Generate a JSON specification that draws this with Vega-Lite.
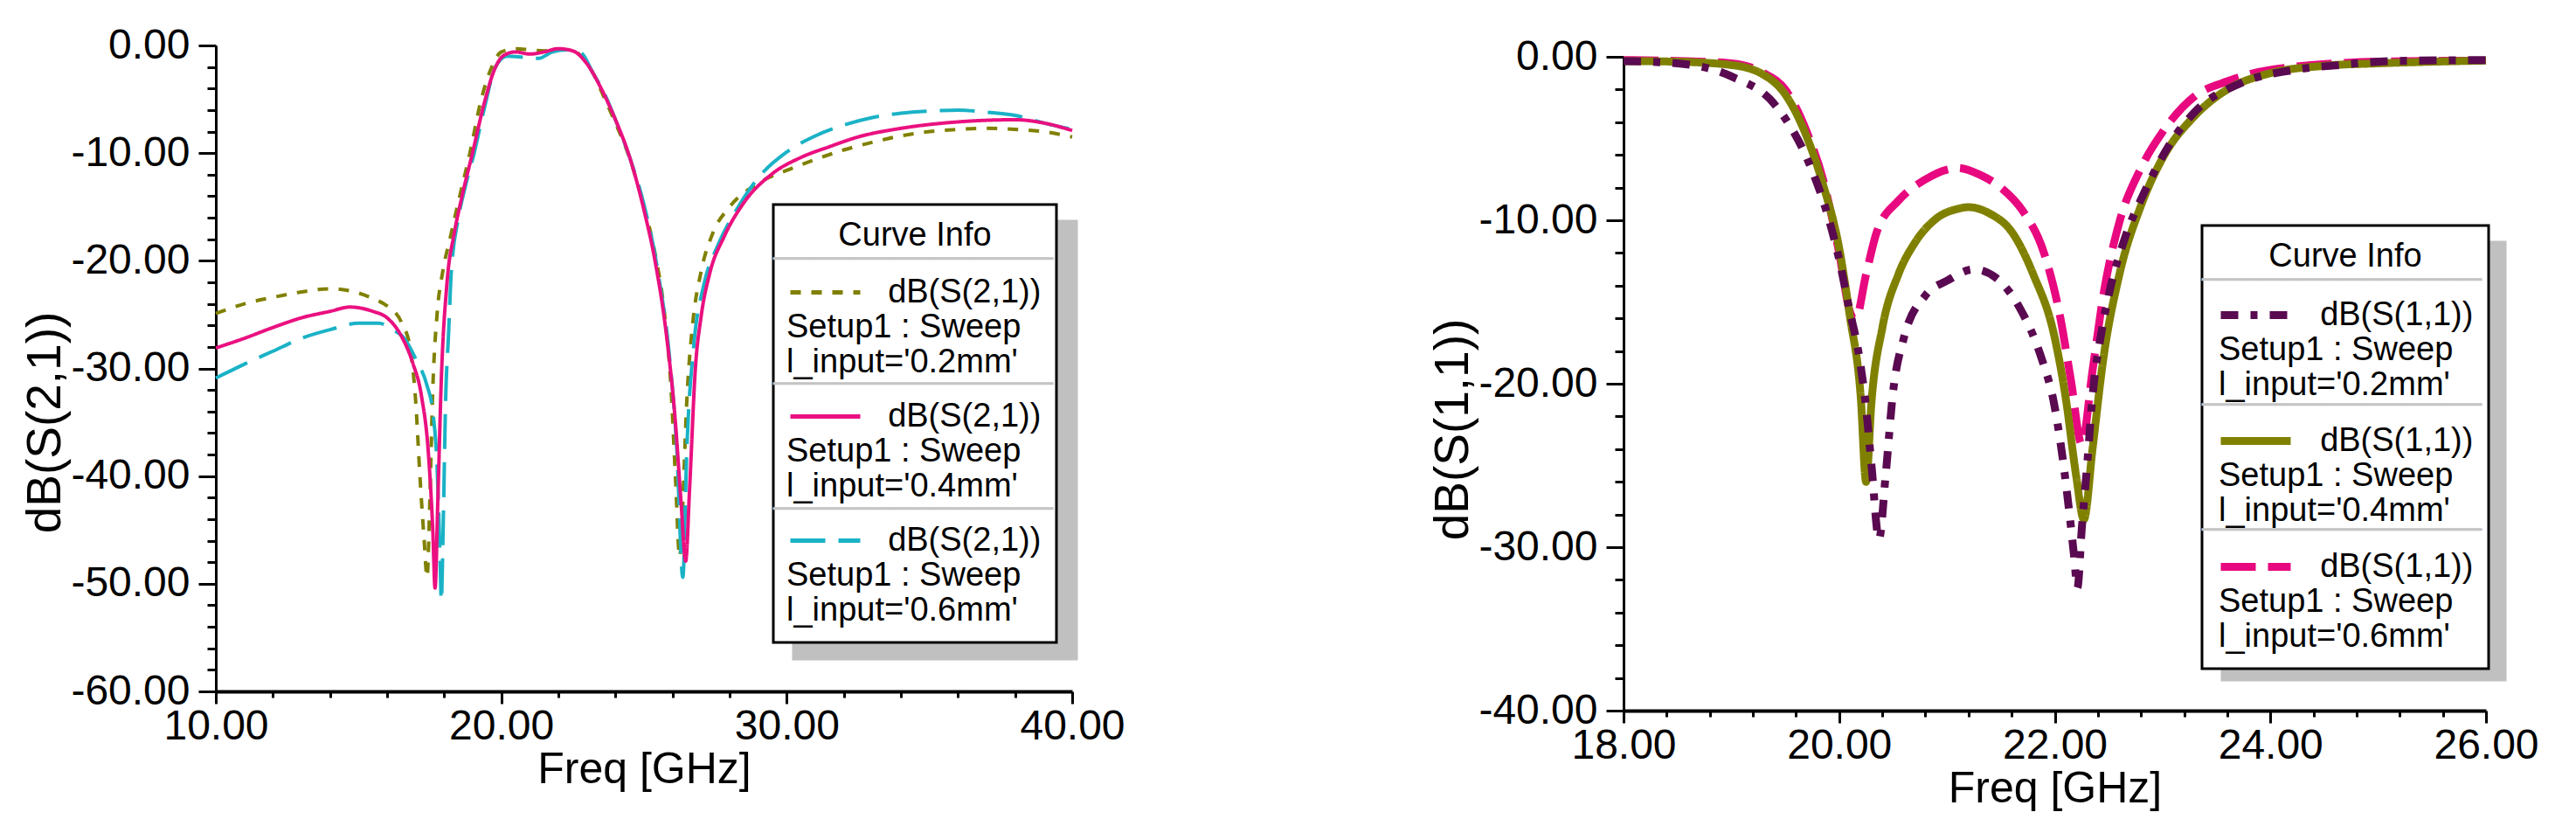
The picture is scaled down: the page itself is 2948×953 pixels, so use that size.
{
  "$schema": "https://vega.github.io/schema/vega-lite/v6.json",
  "background": "white",
  "padding": {"left": 24, "top": 28, "right": 5, "bottom": 5},
  "spacing": 347,
  "resolve": {
    "scale": {"color": "independent", "stroke": "independent", "strokeDash": "independent", "strokeWidth": "independent", "opacity": "independent"},
    "legend": {"color": "independent", "stroke": "independent", "strokeDash": "independent", "opacity": "independent"}
  },
  "config": {
    "font": "Liberation Sans",
    "view": {"stroke": null},
    "axis": {
      "grid": false, "domainColor": "#000", "tickColor": "#000", "labelColor": "#000", "titleColor": "#000",
      "labelFont": "Liberation Sans", "titleFont": "Liberation Sans", "labelFontSize": 48, "titleFontSize": 50,
      "titleFontWeight": "normal", "labelOverlap": false, "labelFlush": false, "labelBound": false, "tickWidth": 3
    },
    "axisX": {"domainWidth": 4, "labelPadding": 2, "titlePadding": 0},
    "axisY": {"domainWidth": 3, "labelPadding": 10, "titlePadding": 0, "titleFontSize": 55},
    "legend": {"strokeWidth": 3}
  },
  "datasets": {
    "s21": [
      {"f": 10, "db": -24.9, "series": "0.2mm"}, {"f": 11, "db": -24.0, "series": "0.2mm"}, {"f": 12, "db": -23.4, "series": "0.2mm"},
      {"f": 13, "db": -22.9, "series": "0.2mm"}, {"f": 14, "db": -22.6, "series": "0.2mm"}, {"f": 15, "db": -23.0, "series": "0.2mm"},
      {"f": 15.5, "db": -23.5, "series": "0.2mm"}, {"f": 16, "db": -24.2, "series": "0.2mm"}, {"f": 16.5, "db": -25.7, "series": "0.2mm"},
      {"f": 16.8, "db": -28.0, "series": "0.2mm"}, {"f": 17.0, "db": -33.0, "series": "0.2mm"}, {"f": 17.15, "db": -40.0, "series": "0.2mm"},
      {"f": 17.3, "db": -46.0, "series": "0.2mm"}, {"f": 17.4, "db": -49.4, "series": "0.2mm"}, {"f": 17.5, "db": -42.0, "series": "0.2mm"},
      {"f": 17.6, "db": -32.0, "series": "0.2mm"}, {"f": 17.75, "db": -25.0, "series": "0.2mm"}, {"f": 17.95, "db": -21.0, "series": "0.2mm"},
      {"f": 18.2, "db": -18.0, "series": "0.2mm"}, {"f": 18.5, "db": -14.5, "series": "0.2mm"}, {"f": 18.9, "db": -10.0, "series": "0.2mm"},
      {"f": 19.3, "db": -5.0, "series": "0.2mm"}, {"f": 19.7, "db": -1.8, "series": "0.2mm"}, {"f": 20.0, "db": -0.6, "series": "0.2mm"},
      {"f": 20.5, "db": -0.3, "series": "0.2mm"}, {"f": 21.0, "db": -0.4, "series": "0.2mm"}, {"f": 21.5, "db": -0.5, "series": "0.2mm"},
      {"f": 22.0, "db": -0.4, "series": "0.2mm"}, {"f": 22.4, "db": -0.4, "series": "0.2mm"}, {"f": 22.8, "db": -1.0, "series": "0.2mm"},
      {"f": 23.2, "db": -2.5, "series": "0.2mm"}, {"f": 23.6, "db": -4.8, "series": "0.2mm"}, {"f": 24.0, "db": -7.2, "series": "0.2mm"},
      {"f": 24.5, "db": -10.5, "series": "0.2mm"}, {"f": 25.0, "db": -15.0, "series": "0.2mm"}, {"f": 25.4, "db": -19.5, "series": "0.2mm"},
      {"f": 25.7, "db": -24.5, "series": "0.2mm"}, {"f": 25.95, "db": -32.0, "series": "0.2mm"}, {"f": 26.1, "db": -40.0, "series": "0.2mm"},
      {"f": 26.25, "db": -47.5, "series": "0.2mm"}, {"f": 26.35, "db": -43.0, "series": "0.2mm"}, {"f": 26.5, "db": -33.0, "series": "0.2mm"},
      {"f": 26.7, "db": -26.0, "series": "0.2mm"}, {"f": 27.0, "db": -21.0, "series": "0.2mm"}, {"f": 27.4, "db": -17.5, "series": "0.2mm"},
      {"f": 28.0, "db": -15.0, "series": "0.2mm"}, {"f": 29.0, "db": -12.8, "series": "0.2mm"}, {"f": 30.0, "db": -11.6, "series": "0.2mm"},
      {"f": 31.0, "db": -10.6, "series": "0.2mm"}, {"f": 32.0, "db": -9.7, "series": "0.2mm"}, {"f": 33.0, "db": -9.0, "series": "0.2mm"},
      {"f": 34.0, "db": -8.4, "series": "0.2mm"}, {"f": 35.0, "db": -8.0, "series": "0.2mm"}, {"f": 36.0, "db": -7.8, "series": "0.2mm"},
      {"f": 37.0, "db": -7.7, "series": "0.2mm"}, {"f": 38.0, "db": -7.8, "series": "0.2mm"}, {"f": 39.0, "db": -8.0, "series": "0.2mm"},
      {"f": 40.0, "db": -8.5, "series": "0.2mm"},

      {"f": 10, "db": -30.9, "series": "0.6mm"}, {"f": 11, "db": -29.6, "series": "0.6mm"}, {"f": 12, "db": -28.4, "series": "0.6mm"},
      {"f": 13, "db": -27.2, "series": "0.6mm"}, {"f": 14, "db": -26.4, "series": "0.6mm"}, {"f": 15, "db": -25.8, "series": "0.6mm"},
      {"f": 15.7, "db": -25.8, "series": "0.6mm"}, {"f": 16.2, "db": -26.4, "series": "0.6mm"}, {"f": 16.6, "db": -27.2, "series": "0.6mm"},
      {"f": 17.0, "db": -29.1, "series": "0.6mm"}, {"f": 17.4, "db": -31.6, "series": "0.6mm"}, {"f": 17.6, "db": -34.0, "series": "0.6mm"},
      {"f": 17.75, "db": -39.0, "series": "0.6mm"}, {"f": 17.85, "db": -47.0, "series": "0.6mm"}, {"f": 17.9, "db": -51.6, "series": "0.6mm"},
      {"f": 17.97, "db": -44.0, "series": "0.6mm"}, {"f": 18.05, "db": -33.0, "series": "0.6mm"}, {"f": 18.15, "db": -27.0, "series": "0.6mm"},
      {"f": 18.25, "db": -21.0, "series": "0.6mm"}, {"f": 18.5, "db": -16.0, "series": "0.6mm"}, {"f": 18.75, "db": -13.0, "series": "0.6mm"},
      {"f": 19.05, "db": -10.0, "series": "0.6mm"}, {"f": 19.4, "db": -5.9, "series": "0.6mm"}, {"f": 19.8, "db": -2.0, "series": "0.6mm"},
      {"f": 20.2, "db": -1.0, "series": "0.6mm"}, {"f": 20.8, "db": -1.1, "series": "0.6mm"}, {"f": 21.3, "db": -1.2, "series": "0.6mm"},
      {"f": 21.8, "db": -0.6, "series": "0.6mm"}, {"f": 22.3, "db": -0.4, "series": "0.6mm"}, {"f": 22.8, "db": -0.7, "series": "0.6mm"},
      {"f": 23.2, "db": -2.5, "series": "0.6mm"}, {"f": 23.6, "db": -4.4, "series": "0.6mm"}, {"f": 24.0, "db": -6.9, "series": "0.6mm"},
      {"f": 24.5, "db": -10.4, "series": "0.6mm"}, {"f": 25.0, "db": -14.8, "series": "0.6mm"}, {"f": 25.5, "db": -21.2, "series": "0.6mm"},
      {"f": 25.9, "db": -29.1, "series": "0.6mm"}, {"f": 26.15, "db": -37.5, "series": "0.6mm"}, {"f": 26.36, "db": -49.4, "series": "0.6mm"},
      {"f": 26.5, "db": -37.5, "series": "0.6mm"}, {"f": 26.75, "db": -27.7, "series": "0.6mm"}, {"f": 27.1, "db": -22.2, "series": "0.6mm"},
      {"f": 27.6, "db": -18.5, "series": "0.6mm"}, {"f": 28.3, "db": -15.0, "series": "0.6mm"}, {"f": 29.0, "db": -12.3, "series": "0.6mm"},
      {"f": 30.0, "db": -9.9, "series": "0.6mm"}, {"f": 31.0, "db": -8.4, "series": "0.6mm"}, {"f": 32.0, "db": -7.4, "series": "0.6mm"},
      {"f": 33.0, "db": -6.7, "series": "0.6mm"}, {"f": 34.0, "db": -6.3, "series": "0.6mm"}, {"f": 35.0, "db": -6.1, "series": "0.6mm"},
      {"f": 36.0, "db": -6.0, "series": "0.6mm"}, {"f": 37.0, "db": -6.2, "series": "0.6mm"}, {"f": 38.0, "db": -6.5, "series": "0.6mm"},
      {"f": 39.0, "db": -7.2, "series": "0.6mm"}, {"f": 40.0, "db": -7.8, "series": "0.6mm"},

      {"f": 10, "db": -28.1, "series": "0.4mm"}, {"f": 11, "db": -27.2, "series": "0.4mm"}, {"f": 12, "db": -26.2, "series": "0.4mm"},
      {"f": 13, "db": -25.3, "series": "0.4mm"}, {"f": 14, "db": -24.7, "series": "0.4mm"}, {"f": 14.7, "db": -24.3, "series": "0.4mm"},
      {"f": 15.5, "db": -24.7, "series": "0.4mm"}, {"f": 16.0, "db": -25.3, "series": "0.4mm"}, {"f": 16.5, "db": -27.0, "series": "0.4mm"},
      {"f": 16.9, "db": -29.5, "series": "0.4mm"}, {"f": 17.2, "db": -32.5, "series": "0.4mm"}, {"f": 17.45, "db": -38.0, "series": "0.4mm"},
      {"f": 17.6, "db": -45.0, "series": "0.4mm"}, {"f": 17.68, "db": -50.4, "series": "0.4mm"}, {"f": 17.78, "db": -42.0, "series": "0.4mm"},
      {"f": 17.9, "db": -31.0, "series": "0.4mm"}, {"f": 18.1, "db": -22.0, "series": "0.4mm"}, {"f": 18.35, "db": -17.5, "series": "0.4mm"},
      {"f": 18.6, "db": -14.3, "series": "0.4mm"}, {"f": 19.0, "db": -9.9, "series": "0.4mm"}, {"f": 19.4, "db": -5.4, "series": "0.4mm"},
      {"f": 19.8, "db": -2.0, "series": "0.4mm"}, {"f": 20.1, "db": -0.9, "series": "0.4mm"}, {"f": 20.5, "db": -0.6, "series": "0.4mm"},
      {"f": 21.0, "db": -0.8, "series": "0.4mm"}, {"f": 21.5, "db": -0.6, "series": "0.4mm"}, {"f": 22.0, "db": -0.3, "series": "0.4mm"},
      {"f": 22.5, "db": -0.5, "series": "0.4mm"}, {"f": 23.0, "db": -1.7, "series": "0.4mm"}, {"f": 23.5, "db": -4.0, "series": "0.4mm"},
      {"f": 24.0, "db": -6.9, "series": "0.4mm"}, {"f": 24.5, "db": -10.4, "series": "0.4mm"}, {"f": 25.0, "db": -15.3, "series": "0.4mm"},
      {"f": 25.4, "db": -20.2, "series": "0.4mm"}, {"f": 25.8, "db": -27.2, "series": "0.4mm"}, {"f": 26.1, "db": -35.0, "series": "0.4mm"},
      {"f": 26.3, "db": -42.5, "series": "0.4mm"}, {"f": 26.46, "db": -47.9, "series": "0.4mm"}, {"f": 26.6, "db": -41.0, "series": "0.4mm"},
      {"f": 26.8, "db": -30.0, "series": "0.4mm"}, {"f": 27.0, "db": -25.2, "series": "0.4mm"}, {"f": 27.3, "db": -21.2, "series": "0.4mm"},
      {"f": 27.8, "db": -17.8, "series": "0.4mm"}, {"f": 28.5, "db": -14.6, "series": "0.4mm"}, {"f": 29.5, "db": -11.9, "series": "0.4mm"},
      {"f": 30.5, "db": -10.4, "series": "0.4mm"}, {"f": 31.5, "db": -9.4, "series": "0.4mm"}, {"f": 32.5, "db": -8.5, "series": "0.4mm"},
      {"f": 34.0, "db": -7.7, "series": "0.4mm"}, {"f": 36.0, "db": -7.1, "series": "0.4mm"}, {"f": 38.0, "db": -6.9, "series": "0.4mm"},
      {"f": 39.0, "db": -7.2, "series": "0.4mm"}, {"f": 40.0, "db": -7.9, "series": "0.4mm"}
    ],
    "s11": [
      {"f": 18.0, "db": -0.2, "series": "0.6mm"}, {"f": 18.5, "db": -0.25, "series": "0.6mm"}, {"f": 19.0, "db": -0.4, "series": "0.6mm"},
      {"f": 19.3, "db": -1.0, "series": "0.6mm"}, {"f": 19.5, "db": -2.0, "series": "0.6mm"}, {"f": 19.7, "db": -4.6, "series": "0.6mm"},
      {"f": 19.85, "db": -7.5, "series": "0.6mm"}, {"f": 20.0, "db": -12.0, "series": "0.6mm"}, {"f": 20.1, "db": -15.6, "series": "0.6mm"},
      {"f": 20.15, "db": -16.1, "series": "0.6mm"}, {"f": 20.25, "db": -13.3, "series": "0.6mm"}, {"f": 20.35, "db": -10.7, "series": "0.6mm"},
      {"f": 20.55, "db": -8.8, "series": "0.6mm"}, {"f": 20.8, "db": -7.5, "series": "0.6mm"}, {"f": 21.0, "db": -6.9, "series": "0.6mm"},
      {"f": 21.1, "db": -6.8, "series": "0.6mm"}, {"f": 21.3, "db": -7.2, "series": "0.6mm"}, {"f": 21.5, "db": -8.0, "series": "0.6mm"},
      {"f": 21.7, "db": -9.4, "series": "0.6mm"}, {"f": 21.9, "db": -12.0, "series": "0.6mm"}, {"f": 22.05, "db": -15.9, "series": "0.6mm"},
      {"f": 22.15, "db": -19.8, "series": "0.6mm"}, {"f": 22.25, "db": -23.7, "series": "0.6mm"}, {"f": 22.35, "db": -19.2, "series": "0.6mm"},
      {"f": 22.45, "db": -14.6, "series": "0.6mm"}, {"f": 22.6, "db": -10.1, "series": "0.6mm"}, {"f": 22.8, "db": -6.8, "series": "0.6mm"},
      {"f": 23.0, "db": -4.6, "series": "0.6mm"}, {"f": 23.3, "db": -2.4, "series": "0.6mm"}, {"f": 23.6, "db": -1.5, "series": "0.6mm"},
      {"f": 24.0, "db": -0.8, "series": "0.6mm"}, {"f": 25.0, "db": -0.3, "series": "0.6mm"}, {"f": 26.0, "db": -0.23, "series": "0.6mm"},

      {"f": 18.0, "db": -0.26, "series": "0.4mm"}, {"f": 18.5, "db": -0.3, "series": "0.4mm"}, {"f": 19.0, "db": -0.5, "series": "0.4mm"},
      {"f": 19.3, "db": -1.1, "series": "0.4mm"}, {"f": 19.5, "db": -2.3, "series": "0.4mm"}, {"f": 19.7, "db": -4.9, "series": "0.4mm"},
      {"f": 19.85, "db": -7.8, "series": "0.4mm"}, {"f": 20.0, "db": -11.7, "series": "0.4mm"}, {"f": 20.1, "db": -15.9, "series": "0.4mm"},
      {"f": 20.2, "db": -20.8, "series": "0.4mm"}, {"f": 20.25, "db": -26.0, "series": "0.4mm"}, {"f": 20.3, "db": -21.1, "series": "0.4mm"},
      {"f": 20.4, "db": -16.6, "series": "0.4mm"}, {"f": 20.55, "db": -13.3, "series": "0.4mm"}, {"f": 20.7, "db": -11.4, "series": "0.4mm"},
      {"f": 20.9, "db": -9.9, "series": "0.4mm"}, {"f": 21.1, "db": -9.3, "series": "0.4mm"}, {"f": 21.2, "db": -9.2, "series": "0.4mm"},
      {"f": 21.4, "db": -9.6, "series": "0.4mm"}, {"f": 21.6, "db": -10.7, "series": "0.4mm"}, {"f": 21.8, "db": -13.3, "series": "0.4mm"},
      {"f": 22.0, "db": -17.2, "series": "0.4mm"}, {"f": 22.1, "db": -20.8, "series": "0.4mm"}, {"f": 22.2, "db": -25.7, "series": "0.4mm"},
      {"f": 22.27, "db": -28.3, "series": "0.4mm"}, {"f": 22.35, "db": -24.0, "series": "0.4mm"}, {"f": 22.45, "db": -18.5, "series": "0.4mm"},
      {"f": 22.6, "db": -13.3, "series": "0.4mm"}, {"f": 22.8, "db": -9.1, "series": "0.4mm"}, {"f": 23.0, "db": -6.2, "series": "0.4mm"},
      {"f": 23.3, "db": -3.6, "series": "0.4mm"}, {"f": 23.6, "db": -2.0, "series": "0.4mm"}, {"f": 24.0, "db": -1.0, "series": "0.4mm"},
      {"f": 24.5, "db": -0.55, "series": "0.4mm"}, {"f": 25.0, "db": -0.4, "series": "0.4mm"}, {"f": 25.5, "db": -0.3, "series": "0.4mm"},
      {"f": 26.0, "db": -0.23, "series": "0.4mm"},

      {"f": 18.0, "db": -0.26, "series": "0.2mm"}, {"f": 18.5, "db": -0.4, "series": "0.2mm"}, {"f": 19.0, "db": -1.2, "series": "0.2mm"},
      {"f": 19.4, "db": -2.9, "series": "0.2mm"}, {"f": 19.72, "db": -6.5, "series": "0.2mm"}, {"f": 19.88, "db": -9.4, "series": "0.2mm"},
      {"f": 20.0, "db": -12.4, "series": "0.2mm"}, {"f": 20.09, "db": -15.3, "series": "0.2mm"}, {"f": 20.19, "db": -18.5, "series": "0.2mm"},
      {"f": 20.25, "db": -21.5, "series": "0.2mm"}, {"f": 20.3, "db": -25.0, "series": "0.2mm"}, {"f": 20.37, "db": -29.5, "series": "0.2mm"},
      {"f": 20.43, "db": -25.7, "series": "0.2mm"}, {"f": 20.5, "db": -20.5, "series": "0.2mm"}, {"f": 20.6, "db": -17.2, "series": "0.2mm"},
      {"f": 20.8, "db": -14.6, "series": "0.2mm"}, {"f": 21.0, "db": -13.7, "series": "0.2mm"}, {"f": 21.25, "db": -13.0, "series": "0.2mm"},
      {"f": 21.45, "db": -13.5, "series": "0.2mm"}, {"f": 21.67, "db": -15.3, "series": "0.2mm"}, {"f": 21.88, "db": -18.5, "series": "0.2mm"},
      {"f": 21.99, "db": -21.1, "series": "0.2mm"}, {"f": 22.07, "db": -24.4, "series": "0.2mm"}, {"f": 22.13, "db": -27.6, "series": "0.2mm"},
      {"f": 22.18, "db": -30.6, "series": "0.2mm"}, {"f": 22.21, "db": -32.5, "series": "0.2mm"}, {"f": 22.25, "db": -28.9, "series": "0.2mm"},
      {"f": 22.3, "db": -25.0, "series": "0.2mm"}, {"f": 22.35, "db": -20.8, "series": "0.2mm"}, {"f": 22.44, "db": -16.6, "series": "0.2mm"},
      {"f": 22.51, "db": -14.3, "series": "0.2mm"}, {"f": 22.65, "db": -11.1, "series": "0.2mm"}, {"f": 22.83, "db": -8.3, "series": "0.2mm"},
      {"f": 23.1, "db": -5.0, "series": "0.2mm"}, {"f": 23.31, "db": -3.3, "series": "0.2mm"}, {"f": 23.73, "db": -1.6, "series": "0.2mm"},
      {"f": 24.22, "db": -0.8, "series": "0.2mm"}, {"f": 24.64, "db": -0.5, "series": "0.2mm"}, {"f": 25.13, "db": -0.26, "series": "0.2mm"},
      {"f": 26.0, "db": -0.2, "series": "0.2mm"}
    ]
  },
  "hconcat": [
    {
      "width": 980,
      "height": 739,
      "data": {"name": "s21"},
      "encoding": {
        "x": {
          "field": "f", "type": "quantitative",
          "scale": {"domain": [10, 40], "nice": false, "zero": false},
          "axis": {
            "title": "Freq [GHz]",
            "values": [10, 12, 14, 16, 18, 20, 22, 24, 26, 28, 30, 32, 34, 36, 38, 40],
            "labelExpr": "datum.value % 10 === 0 ? format(datum.value, '.2f') : ''",
            "tickSize": {"condition": {"test": "datum.value % 10 === 0", "value": 14}, "value": 7}
          }
        },
        "y": {
          "field": "db", "type": "quantitative",
          "scale": {"domain": [-60, 0], "nice": false, "zero": false},
          "axis": {
            "title": "dB(S(2,1))",
            "titleY": 431,
            "values": [-60, -58, -56, -54, -52, -50, -48, -46, -44, -42, -40, -38, -36, -34, -32, -30, -28, -26, -24, -22, -20, -18, -16, -14, -12, -10, -8, -6, -4, -2, 0],
            "labelExpr": "datum.value % 10 === 0 ? (datum.value < 0 ? '-' : '') + format(abs(datum.value), '.2f') : ''",
            "tickSize": {"condition": {"test": "datum.value % 10 === 0", "value": 20}, "value": 10}
          }
        }
      },
      "layer": [
        {
          "transform": [{"calculate": "datum.series", "as": "k"}],
          "mark": {"type": "line", "opacity": 0},
          "encoding": {
            "color": {
              "field": "k", "type": "nominal",
              "scale": {"range": ["#c0c0c0", "#c0c0c0", "#c0c0c0"]},
              "legend": {
                "title": "Curve Info", "orient": "none", "legendX": 661, "legendY": 201,
                "fillColor": "#c0c0c0", "strokeColor": "#c0c0c0", "padding": 17,
                "titleFontSize": 38, "titleFontWeight": "normal", "titleAnchor": "middle", "titleColor": "#c0c0c0", "titlePadding": 3,
                "labelFontSize": 38, "labelColor": "#c0c0c0", "labelLimit": 600, "labelOffset": -87,
                "labelExpr": "['\u200b\u00a0\u00a0\u00a0\u00a0\u00a0\u00a0\u00a0\u00a0\u00a0\u00a0\u00a0dB(S(2,1))', 'Setup1 : Sweep', \"l_input='\" + datum.label + \"'\"]",
                "symbolType": "stroke", "symbolSize": 6400, "symbolStrokeWidth": 5, "symbolOffset": 0, "rowPadding": 0
              }
            }
          }
        },
        {
          "mark": {"type": "line", "strokeWidth": 4, "interpolate": "monotone"},
          "encoding": {
            "stroke": {
              "field": "series", "type": "nominal",
              "scale": {"domain": ["0.2mm", "0.4mm", "0.6mm"], "range": ["#808000", "#ea1080", "#1ab2c6"]},
              "legend": {
                "title": "Curve Info", "orient": "none", "legendX": 638, "legendY": 182,
                "fillColor": "white", "strokeColor": "black", "padding": 17,
                "titleFontSize": 38, "titleFontWeight": "normal", "titleAnchor": "middle", "titleColor": "black", "titlePadding": 3,
                "labelFontSize": 38, "labelColor": "black", "labelLimit": 600, "labelOffset": -87,
                "labelExpr": "['\u200b\u00a0\u00a0\u00a0\u00a0\u00a0\u00a0\u00a0\u00a0\u00a0\u00a0\u00a0dB(S(2,1))', 'Setup1 : Sweep', \"l_input='\" + datum.label + \"'\"]",
                "symbolType": "stroke", "symbolSize": 6400, "symbolStrokeWidth": 5, "symbolOffset": 0, "rowPadding": 0
              }
            },
            "strokeDash": {
              "field": "series", "type": "nominal",
              "scale": {"domain": ["0.2mm", "0.4mm", "0.6mm"], "range": [[12, 12], [1, 0], [40, 15]]},
              "legend": {
                "title": "Curve Info", "orient": "none", "legendX": 638, "legendY": 182,
                "fillColor": "white", "strokeColor": "black", "padding": 17,
                "titleFontSize": 38, "titleFontWeight": "normal", "titleAnchor": "middle", "titleColor": "black", "titlePadding": 3,
                "labelFontSize": 38, "labelColor": "black", "labelLimit": 600, "labelOffset": -87,
                "labelExpr": "['\u200b\u00a0\u00a0\u00a0\u00a0\u00a0\u00a0\u00a0\u00a0\u00a0\u00a0\u00a0dB(S(2,1))', 'Setup1 : Sweep', \"l_input='\" + datum.label + \"'\"]",
                "symbolType": "stroke", "symbolSize": 6400, "symbolStrokeWidth": 5, "symbolOffset": 0, "rowPadding": 0
              }
            }
          }
        },
        {
          "transform": [{"calculate": "datum.series", "as": "d"}],
          "mark": {"type": "line", "strokeWidth": 0},
          "encoding": {
            "opacity": {
              "field": "d", "type": "ordinal",
              "legend": {
                "title": "Curve Info", "orient": "none", "legendX": 638, "legendY": 168,
                "padding": 17,
                "titleFontSize": 38, "titleFontWeight": "normal", "titleAnchor": "middle", "titleColor": "transparent", "titlePadding": 3,
                "labelFontSize": 38, "labelFont": "DejaVu Sans", "labelColor": "#c4c4c4", "labelLimit": 800, "labelOffset": -57,
                "labelExpr": "'──────────────'",
                "symbolType": "stroke", "symbolSize": 1600, "symbolStrokeWidth": 0, "symbolOpacity": 0, "symbolOffset": 0, "rowPadding": 104
              }
            }
          }
        }
      ]
    },
    {
      "width": 987,
      "height": 761,
      "data": {"name": "s11"},
      "encoding": {
        "x": {
          "field": "f", "type": "quantitative",
          "scale": {"domain": [18, 26], "nice": false, "zero": false},
          "axis": {
            "title": "Freq [GHz]",
            "values": [18, 18.4, 18.8, 19.2, 19.6, 20, 20.4, 20.8, 21.2, 21.6, 22, 22.4, 22.8, 23.2, 23.6, 24, 24.4, 24.8, 25.2, 25.6, 26],
            "labelExpr": "datum.value % 2 === 0 ? format(datum.value, '.2f') : ''",
            "tickSize": {"condition": {"test": "datum.value % 2 === 0", "value": 14}, "value": 7}
          }
        },
        "y": {
          "field": "db", "type": "quantitative",
          "scale": {"domain": [-40, 0], "nice": false, "zero": false, "range": [761, 13]},
          "axis": {
            "title": "dB(S(1,1))",
            "titleY": 439,
            "values": [-40, -38, -36, -34, -32, -30, -28, -26, -24, -22, -20, -18, -16, -14, -12, -10, -8, -6, -4, -2, 0],
            "labelExpr": "datum.value % 10 === 0 ? (datum.value < 0 ? '-' : '') + format(abs(datum.value), '.2f') : ''",
            "tickSize": {"condition": {"test": "datum.value % 10 === 0", "value": 20}, "value": 10}
          }
        }
      },
      "layer": [
        {
          "transform": [{"calculate": "datum.series", "as": "k"}],
          "mark": {"type": "line", "opacity": 0},
          "encoding": {
            "color": {
              "field": "k", "type": "nominal",
              "scale": {"range": ["#c0c0c0", "#c0c0c0", "#c0c0c0"]},
              "legend": {
                "title": "Curve Info", "orient": "none", "legendX": 685, "legendY": 225,
                "fillColor": "#c0c0c0", "strokeColor": "#c0c0c0", "padding": 17,
                "titleFontSize": 38, "titleFontWeight": "normal", "titleAnchor": "middle", "titleColor": "#c0c0c0", "titlePadding": 3,
                "labelFontSize": 38, "labelColor": "#c0c0c0", "labelLimit": 600, "labelOffset": -87,
                "labelExpr": "['\u200b\u00a0\u00a0\u00a0\u00a0\u00a0\u00a0\u00a0\u00a0\u00a0\u00a0\u00a0dB(S(1,1))', 'Setup1 : Sweep', \"l_input='\" + datum.label + \"'\"]",
                "symbolType": "stroke", "symbolSize": 6400, "symbolStrokeWidth": 5, "symbolOffset": 0, "rowPadding": 0
              }
            }
          }
        },
        {
          "mark": {"type": "line", "interpolate": "monotone"},
          "encoding": {
            "strokeWidth": {
              "field": "series", "type": "nominal",
              "scale": {"domain": ["0.2mm", "0.4mm", "0.6mm"], "range": [9, 9, 6]},
              "legend": null
            },
            "stroke": {
              "field": "series", "type": "nominal",
              "scale": {"domain": ["0.2mm", "0.4mm", "0.6mm"], "range": ["#5a0a50", "#808000", "#e8087f"]},
              "legend": {
                "title": "Curve Info", "orient": "none", "legendX": 662, "legendY": 206,
                "fillColor": "white", "strokeColor": "black", "padding": 17,
                "titleFontSize": 38, "titleFontWeight": "normal", "titleAnchor": "middle", "titleColor": "black", "titlePadding": 3,
                "labelFontSize": 38, "labelColor": "black", "labelLimit": 600, "labelOffset": -87,
                "labelExpr": "['\u200b\u00a0\u00a0\u00a0\u00a0\u00a0\u00a0\u00a0\u00a0\u00a0\u00a0\u00a0dB(S(1,1))', 'Setup1 : Sweep', \"l_input='\" + datum.label + \"'\"]",
                "symbolType": "stroke", "symbolSize": 6400, "symbolStrokeWidth": 5, "symbolOffset": 0, "rowPadding": 0
              }
            },
            "strokeDash": {
              "field": "series", "type": "nominal",
              "scale": {"domain": ["0.2mm", "0.4mm", "0.6mm"], "range": [[20, 14, 8, 14], [1, 0], [40, 14]]},
              "legend": {
                "title": "Curve Info", "orient": "none", "legendX": 662, "legendY": 206,
                "fillColor": "white", "strokeColor": "black", "padding": 17,
                "titleFontSize": 38, "titleFontWeight": "normal", "titleAnchor": "middle", "titleColor": "black", "titlePadding": 3,
                "labelFontSize": 38, "labelColor": "black", "labelLimit": 600, "labelOffset": -87,
                "labelExpr": "['\u200b\u00a0\u00a0\u00a0\u00a0\u00a0\u00a0\u00a0\u00a0\u00a0\u00a0\u00a0dB(S(1,1))', 'Setup1 : Sweep', \"l_input='\" + datum.label + \"'\"]",
                "symbolType": "stroke", "symbolSize": 6400, "symbolStrokeWidth": 5, "symbolOffset": 0, "rowPadding": 0
              }
            }
          }
        },
        {
          "transform": [{"calculate": "datum.series", "as": "d"}],
          "mark": {"type": "line", "strokeWidth": 0},
          "encoding": {
            "opacity": {
              "field": "d", "type": "ordinal",
              "legend": {
                "title": "Curve Info", "orient": "none", "legendX": 662, "legendY": 192,
                "padding": 17,
                "titleFontSize": 38, "titleFontWeight": "normal", "titleAnchor": "middle", "titleColor": "transparent", "titlePadding": 3,
                "labelFontSize": 38, "labelFont": "DejaVu Sans", "labelColor": "#c4c4c4", "labelLimit": 800, "labelOffset": -57,
                "labelExpr": "'──────────────'",
                "symbolType": "stroke", "symbolSize": 1600, "symbolStrokeWidth": 0, "symbolOpacity": 0, "symbolOffset": 0, "rowPadding": 104
              }
            }
          }
        }
      ]
    }
  ]
}
